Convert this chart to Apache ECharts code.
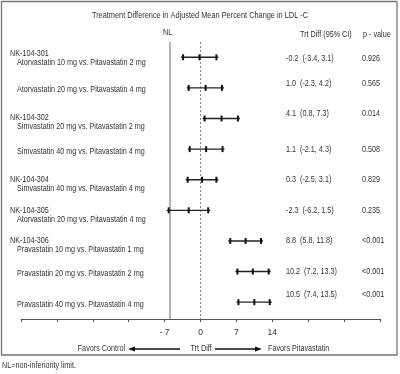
<!DOCTYPE html>
<html><head><meta charset="utf-8">
<script src="https://cdn.jsdelivr.net/npm/echarts@6/dist/echarts.min.js"></script>
<style>html,body{margin:0;padding:0;background:#fff}#c{width:400px;height:374px}</style>
</head><body><div id="c"></div>
<script>
// ---- data ----
const title = 'Treatment Difference in Adjusted Mean Percent Change in LDL -C';
const studies = ['NK-104-301', '', 'NK-104-302', '', 'NK-104-304', 'NK-104-305', 'NK-104-306', '', ''];
const comparisons = [
  'Atorvastatin 10 mg vs. Pitavastatin 2 mg',
  'Atorvastatin 20 mg vs. Pitavastatin 4 mg',
  'Simvastatin 20 mg vs. Pitavastatin 2 mg',
  'Simvastatin 40 mg vs. Pitavastatin 4 mg',
  'Simvastatin 40 mg vs. Pitavastatin 4 mg',
  'Atorvastatin 20 mg vs. Pitavastatin 4 mg',
  'Pravastatin 10 mg vs. Pitavastatin 1 mg',
  'Pravastatin 20 mg vs. Pitavastatin 2 mg',
  'Pravastatin 40 mg vs. Pitavastatin 4 mg'
];
const estimates = [-0.2, 1.0, 4.1, 1.1, 0.3, -2.3, 8.8, 10.2, 10.5];
const lowerCI   = [-3.4, -2.3, 0.8, -2.1, -2.5, -6.2, 5.8, 7.2, 7.4];
const upperCI   = [3.1, 4.2, 7.3, 4.3, 3.1, 1.5, 11.8, 13.3, 13.5];
const pValues   = ['0.926', '0.565', '0.014', '0.508', '0.829', '0.235', '<0.001', '<0.001', '<0.001'];
const tickLabels = [-7, 0, 7, 14];
const nlLimit = -6;

// ---- layout (not data) ----
const FONT = "'Liberation Sans', Arial, sans-serif";
const TXT = '#333';
const SX = 0.83;
const labelShift = [-4, 0, -1, 0, 0, 0, 0, 0, 0];
const ciShift = [1, -4, -5, 0, 0, 0, 0, 0, -8];

const rows = estimates.map((e, i) => [i + 1, lowerCI[i], e, upperCI[i]]);

const chart = echarts.init(document.getElementById('c'), null, {renderer: 'canvas'});
const fmt = v => (v < 0 ? '-' : '') + Math.abs(v).toFixed(1);
const txt = (x, y, text, align, size) => ({
  type: 'text', x: x, y: y, scaleX: SX,
  style: {text: text, fill: TXT, font: (size || 8.7) + 'px ' + FONT,
          textVerticalAlign: 'middle', textAlign: align || 'left'}
});

chart.setOption({
  animation: false,
  backgroundColor: '#fff',
  grid: {left: 21, right: 20, top: 42, bottom: 55},
  xAxis: {
    type: 'value', min: -35, max: 35, interval: 7,
    axisLine: {show: true, lineStyle: {color: '#555', width: 1}},
    axisTick: {show: true, length: 3, lineStyle: {color: '#555'}},
    splitLine: {show: false},
    axisLabel: {
      margin: 9, fontFamily: FONT, fontSize: 8.5, color: TXT, showMinLabel: true, showMaxLabel: true,
      formatter: v => tickLabels.includes(v) ? (v < 0 ? '- ' + Math.abs(v) : String(v)) : ''
    }
  },
  yAxis: {type: 'value', inverse: true, min: 0.5, max: 9.55, show: false},
  series: [
    {
      type: 'custom',
      data: rows,
      encode: {x: [1, 2, 3], y: 0},
      z: 5,
      markLine: {
        silent: true, symbol: 'none', label: {show: false},
        data: [
          {xAxis: nlLimit, lineStyle: {color: '#9a9a9a', width: 1.5, type: 'solid'}},
          {xAxis: 0, lineStyle: {color: '#666', width: 0.8, type: [2, 2]}}
        ]
      },
      renderItem: (params, api) => {
        const r = api.value(0);
        const lo = api.coord([api.value(1), r]);
        const es = api.coord([api.value(2), r]);
        const hi = api.coord([api.value(3), r]);
        const st = {stroke: '#222', lineWidth: 1.4};
        const tk = {stroke: '#111', lineWidth: 2};
        const tick = p => ({type: 'line', shape: {x1: p[0], y1: p[1] - 3, x2: p[0], y2: p[1] + 3}, style: tk});
        return {type: 'group', children: [
          {type: 'line', shape: {x1: lo[0] - 2, y1: lo[1], x2: hi[0] + 2, y2: hi[1]}, style: st},
          tick(lo), tick(es), tick(hi)
        ]};
      }
    },
    {
      type: 'custom',
      data: rows,
      encode: {x: 2, y: 0},
      silent: true,
      renderItem: (params, api) => {
        const i = params.dataIndex;
        const y = api.coord([0, api.value(0)])[1];
        const ls = labelShift[i];
        const children = [];
        if (studies[i]) {
          children.push(txt(10, y + ls, studies[i]));
          children.push(txt(17, y + ls + 9, comparisons[i]));
        } else {
          children.push(txt(17, y + 2, comparisons[i]));
        }
        const cy = y + ciShift[i];
        children.push(txt(286, cy, fmt(estimates[i]) + '  (' + fmt(lowerCI[i]) + ', ' + fmt(upperCI[i]) + ')'));
        children.push(txt(362, cy, pValues[i]));
        return {type: 'group', children: children};
      }
    }
  ],
  graphic: [
    {type: 'rect', shape: {x: 1.5, y: 1.5, width: 395.5, height: 353.5},
     style: {fill: 'none', stroke: '#777', lineWidth: 1.3}},
    txt(200, 16, title, 'center', 8.9),
    txt(163, 33, 'NL'),
    txt(300, 35, 'Trt Diff (95% CI)'),
    txt(363, 35, 'p - value'),
    txt(125, 349, 'Favors Control', 'right'),
    {type: 'line', shape: {x1: 180, y1: 349, x2: 133, y2: 349}, style: {stroke: '#111', lineWidth: 1.5}},
    {type: 'polygon', shape: {points: [[128, 349], [135, 346.5], [135, 351.5]]}, style: {fill: '#111'}},
    txt(201, 349, 'Trt Diff', 'center'),
    {type: 'line', shape: {x1: 215, y1: 349, x2: 257, y2: 349}, style: {stroke: '#111', lineWidth: 1.5}},
    {type: 'polygon', shape: {points: [[262, 349], [255, 346.5], [255, 351.5]]}, style: {fill: '#111'}},
    txt(268, 349, 'Favors Pitavastatin'),
    txt(2, 366, 'NL=non-inferiority limit.')
  ]
});
</script></body></html>
